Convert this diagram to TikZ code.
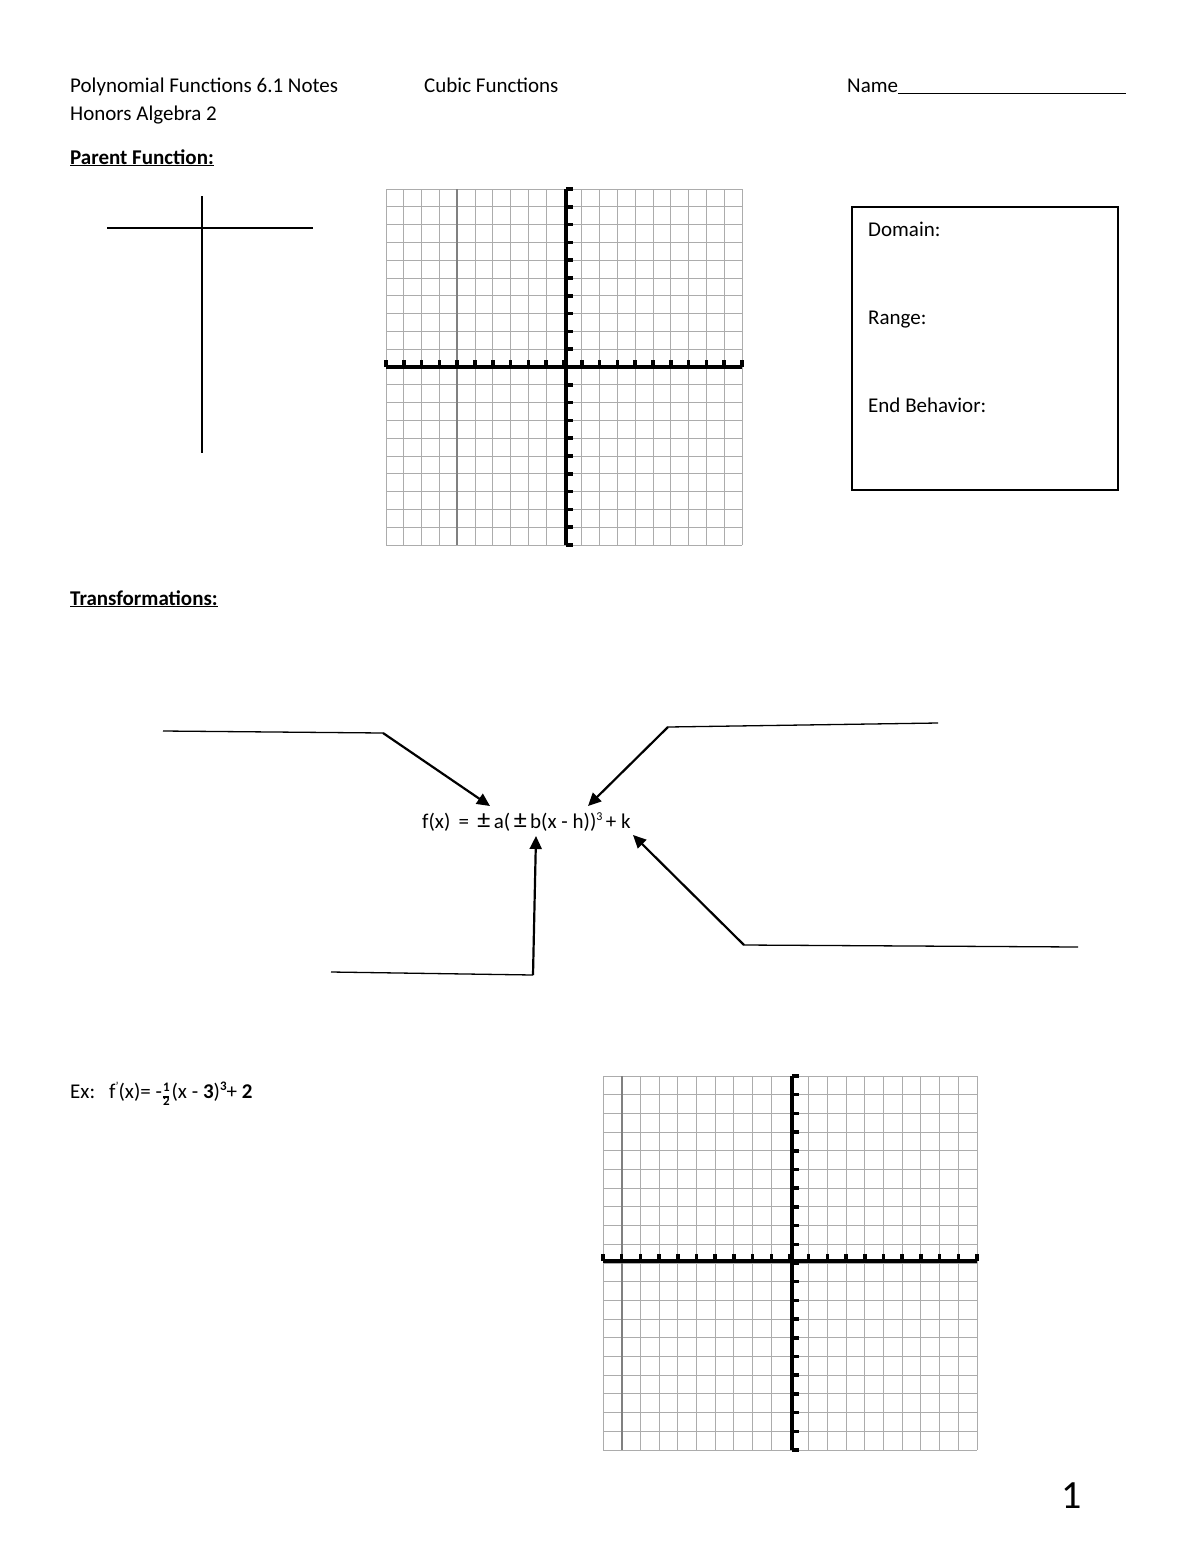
\documentclass[tikz,border=0pt]{standalone}
\usepackage{fontspec}
\setmainfont{Carlito}
\usetikzlibrary{arrows.meta}
\tikzset{
  txt/.style={anchor=base west,inner sep=0pt,font=\fontsize{21}{25}\selectfont},
  gridline/.style={draw=gray!65,line width=1pt},
  axis/.style={line width=3.8pt},
  blank/.style={line width=1.3pt},
  arr/.style={line width=2.2pt,-{Triangle[length=13pt,width=12pt]}}
}
\newcommand{\graphpaper}[6]{%
  \foreach \i in {0,...,20}{
    \draw[gridline] ({#1+\i*#3},#2) -- ({#1+\i*#3},{#2+20*#3});
    \draw[gridline] (#1,{#2+\i*#3}) -- ({#1+20*#3},{#2+\i*#3});
  }
  \draw[draw=gray,line width=1.8pt] ({#1+#6*#3},#2) -- ({#1+#6*#3},{#2+20*#3});
  \draw[axis] ({#1+#4*#3},#2) -- ({#1+#4*#3},{#2+20*#3});
  \draw[axis] (#1,{#2+#5*#3}) -- ({#1+20*#3},{#2+#5*#3});
  \foreach \i in {0,...,20}{
    \draw[line width=3.5pt] ({#1+\i*#3},{#2+#5*#3}) -- ({#1+\i*#3},{#2+#5*#3-7});
    \draw[line width=3.5pt] ({#1+#4*#3},{#2+\i*#3}) -- ({#1+#4*#3+7},{#2+\i*#3});
  }
}
\newcommand{\pmbig}{{\fontsize{26}{26}\selectfont ±}}
\begin{document}
\begin{tikzpicture}[x=1pt,y=-1pt]
\useasboundingbox (0,0) rectangle (1200,1553);
\fill[white] (0,0) rectangle (1200,1553);
\node[txt] (t1) at (70,92) {Polynomial Functions 6.1 Notes};
\node[txt] (t2) at (424,92) {Cubic Functions};
\node[txt] (t3) at (847,92) {Name\rule[-2pt]{228pt}{0.8pt}};
\node[txt] (t4) at (70,120) {Honors Algebra 2};
\node[txt] (t5) at (70,164) {\textbf{\underline{Parent Function:}}};
\draw[blank] (107,228) -- (313,228);
\draw[blank] (202,196) -- (202,453);
\graphpaper{386}{189}{17.8}{10.1}{10}{4}
\draw[line width=2.5pt] (852,207) rectangle (1118,490);
\node[txt] (d) at (868,236) {Domain:};
\node[txt] (r) at (868,324) {Range:};
\node[txt] (e) at (868,412) {End Behavior:};
\node[txt] (t6) at (70,605) {\textbf{\underline{Transformations:}}};
\node[txt] (f) at (422,828) {f(x)\, = \,\pmbig\,a(\,\pmbig\,b(x - h))\raisebox{8pt}{\fontsize{12}{12}\selectfont 3}\,+ k};
\coordinate (a1) at (163,731); \coordinate (a2) at (383,733); \coordinate (a3) at (490,806);
\draw[blank] (a1) -- (a2); \draw[arr] (a2) -- (a3);
\coordinate (b1) at (938,723); \coordinate (b2) at (668,727); \coordinate (b3) at (588,806);
\draw[blank] (b1) -- (b2); \draw[arr] (b2) -- (b3);
\coordinate (c1) at (331,972); \coordinate (c2) at (533,975); \coordinate (c3) at (536,836);
\draw[blank] (c1) -- (c2); \draw[arr] (c2) -- (c3);
\coordinate (d1) at (1078,947); \coordinate (d2) at (744,945); \coordinate (d3) at (633,835);
\draw[blank] (d1) -- (d2); \draw[arr] (d2) -- (d3);
\node[txt] (ex) at (70,1098) {Ex:\hspace{14pt}f\raisebox{8pt}{\fontsize{12}{12}\selectfont '}(x)= -\kern1pt\raisebox{-1pt}{\fontsize{13}{13}\selectfont$\vcenter{\hbox{\begin{tabular}{@{}c@{}}\textbf{1}\\[-7pt]\rule{6pt}{1.2pt}\\[-5pt]\textbf{2}\end{tabular}}}$}\kern2pt(x - \textbf{3})\raisebox{8pt}{\fontsize{13}{13}\selectfont\textbf{3}}+ \textbf{2}};
\graphpaper{603}{1076}{18.7}{10.1}{9.9}{1}
\node[anchor=center,inner sep=0pt,font=\fontsize{40}{44}\selectfont] (pg) at (1072,1496) {1};
\end{tikzpicture}
\end{document}
